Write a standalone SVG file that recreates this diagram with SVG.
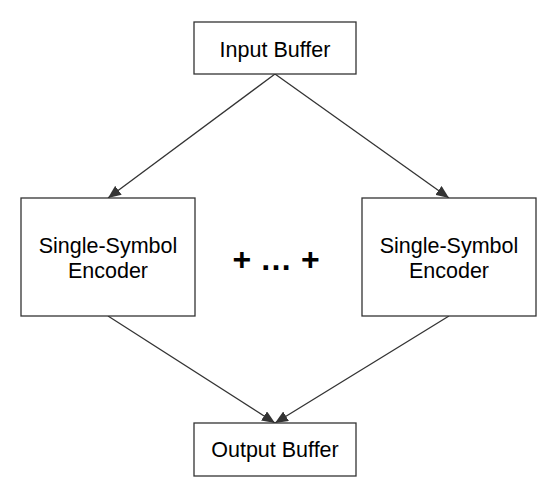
<svg xmlns="http://www.w3.org/2000/svg" width="548" height="484" viewBox="0 0 548 484">
<style>
.box{fill:#fff;stroke:#333;stroke-width:1.3}
.lbl{font-family:"Liberation Sans",Arial,sans-serif;font-size:21.5px;fill:#000;text-anchor:middle}
.conn{stroke:#333;stroke-width:1.3;fill:none;marker-end:url(#ah)}
</style>
<defs>
<marker id="ah" viewBox="0 0 13 11" refX="13" refY="5.5" markerWidth="13" markerHeight="11" markerUnits="userSpaceOnUse" orient="auto">
<path d="M0,0 L13,5.5 L0,11 z" fill="#333"/>
</marker>
</defs>
<rect width="548" height="484" fill="#fff"/>
<g id="connectors">
<line class="conn" x1="275" y1="74" x2="108" y2="198"/>
<line class="conn" x1="275" y1="74" x2="449" y2="198"/>
<line class="conn" x1="108" y1="316" x2="275" y2="423"/>
<line class="conn" x1="449" y1="316" x2="275" y2="423"/>
</g>
<g id="input-buffer">
<rect class="box" x="194" y="22" width="162" height="52"/>
<text class="lbl" x="275" y="56.5">Input Buffer</text>
</g>
<g id="encoder-left">
<rect class="box" x="21" y="198" width="174" height="118"/>
<text class="lbl" x="108" y="253">Single-Symbol</text>
<text class="lbl" x="108" y="278">Encoder</text>
</g>
<g id="encoder-right">
<rect class="box" x="362" y="198" width="174" height="118"/>
<text class="lbl" x="449" y="253">Single-Symbol</text>
<text class="lbl" x="449" y="278">Encoder</text>
</g>
<g id="ellipsis">
<text x="276" y="270" style="font-family:'Liberation Sans',Arial,sans-serif;font-size:32px;font-weight:bold;text-anchor:middle">+ … +</text>
</g>
<g id="output-buffer">
<rect class="box" x="194" y="423" width="162" height="53"/>
<text class="lbl" x="275" y="456.5">Output Buffer</text>
</g>
</svg>
